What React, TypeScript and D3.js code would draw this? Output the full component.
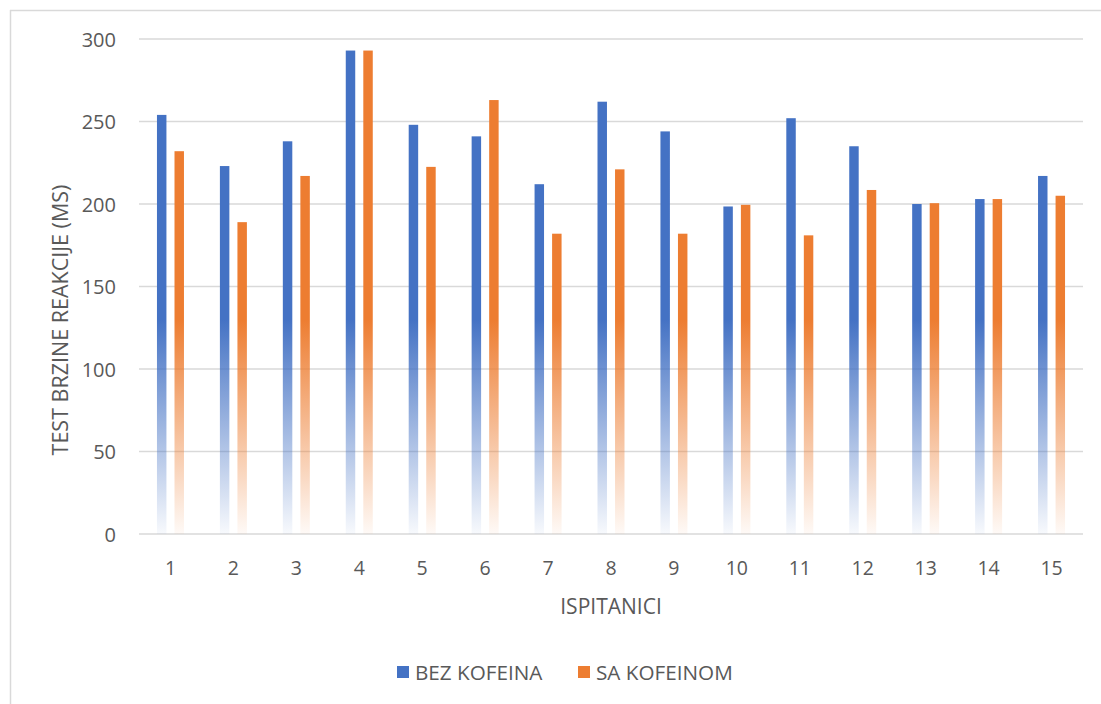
import React from 'react';
import * as d3 from 'd3';

const subjects = ['1', '2', '3', '4', '5', '6', '7', '8', '9', '10', '11', '12', '13', '14', '15'];
const withoutCaffeine = [254, 223, 238, 293, 248, 241, 212, 262, 244, 198.5, 252, 235, 200, 203, 217];
const withCaffeine = [232, 189, 217, 293, 222.5, 263, 182, 221, 182, 199.5, 181, 208.5, 200.5, 203, 205];
const seriesNames = ['BEZ KOFEINA', 'SA KOFEINOM'];
const yTicks = [0, 50, 100, 150, 200, 250, 300];

const W = 1101;
const H = 704;
const FONT = '"Open Sans", "DejaVu Sans", sans-serif';
const TEXT = '#595959';
const colors = ['#4472C4', '#ED7D31'];

const App: React.FC = () => {
  const x = d3.scaleBand<string>().domain(subjects).range([139, 1083]).padding(0);
  const y = d3.scaleLinear().domain([0, 300]).range([534, 39]);
  // two bars per subject, a small gap between them
  const sub = d3.scaleBand<string>().domain(seriesNames).range([-13.5, 13.5]).paddingInner(0.46);
  const series = [withoutCaffeine, withCaffeine];

  return (
    <div style={{ position: 'absolute', left: 0, top: 0 }}>
      <svg width={W} height={H} style={{ display: 'block', background: '#fff' }}>
        <defs>
          {colors.map((c, i) => (
            <linearGradient
              key={c}
              id={`fade${i}`}
              gradientUnits='userSpaceOnUse'
              x1={0}
              x2={0}
              y1={y(0)}
              y2={y(130)}
            >
              <stop offset='0%' stopColor={c} stopOpacity={0.04} />
              <stop offset='45%' stopColor={c} stopOpacity={0.47} />
              <stop offset='100%' stopColor={c} stopOpacity={1} />
            </linearGradient>
          ))}
        </defs>

        {/* chart area border (cropped: only top and left visible) */}
        <line x1={10} x2={W} y1={10.5} y2={10.5} stroke='#d9d9d9' strokeWidth={1.5} />
        <line x1={10.5} x2={10.5} y1={10} y2={H} stroke='#d9d9d9' strokeWidth={1.5} />

        {yTicks.map((t) => (
          <g key={t}>
            <line x1={139} x2={1083} y1={y(t)} y2={y(t)} stroke='#d9d9d9' strokeWidth={1.3} />
            <text
              x={116}
              y={y(t)}
              textAnchor='end'
              dominantBaseline='central'
              fontFamily={FONT}
              fontSize={20}
              fill={TEXT}
            >
              {t}
            </text>
          </g>
        ))}

        {subjects.map((s, i) => {
          const cx = (x(s) ?? 0) + x.bandwidth() / 2;
          return (
            <g key={s}>
              {series.map((vals, k) => (
                <rect
                  key={k}
                  x={cx + (sub(seriesNames[k]) ?? 0)}
                  y={y(vals[i])}
                  width={sub.bandwidth()}
                  height={y(0) - y(vals[i])}
                  fill={`url(#fade${k})`}
                />
              ))}
              <text
                x={cx}
                y={567}
                textAnchor='middle'
                dominantBaseline='central'
                fontFamily={FONT}
                fontSize={19.5}
                fill={TEXT}
              >
                {s}
              </text>
            </g>
          );
        })}

        <text
          x={(139 + 1083) / 2}
          y={606}
          textAnchor='middle'
          dominantBaseline='central'
          fontFamily={FONT}
          fontSize={21}
          fill={TEXT}
        >
          ISPITANICI
        </text>
        <text
          transform='translate(59,320) rotate(-90)'
          textAnchor='middle'
          dominantBaseline='central'
          fontFamily={FONT}
          fontSize={21.5}
          fill={TEXT}
        >
          TEST BRZINE REAKCIJE (MS)
        </text>

        {/* legend */}
        {seriesNames.map((n, k) => {
          const lx = k === 0 ? 397 : 578;
          return (
            <g key={n}>
              <rect x={lx} y={666} width={12} height={12} fill={colors[k]} />
              <text
                x={lx + 18}
                y={672}
                dominantBaseline='central'
                fontFamily={FONT}
                fontSize={20.7}
                fill={TEXT}
              >
                {n}
              </text>
            </g>
          );
        })}
      </svg>
    </div>
  );
};

export default App;
